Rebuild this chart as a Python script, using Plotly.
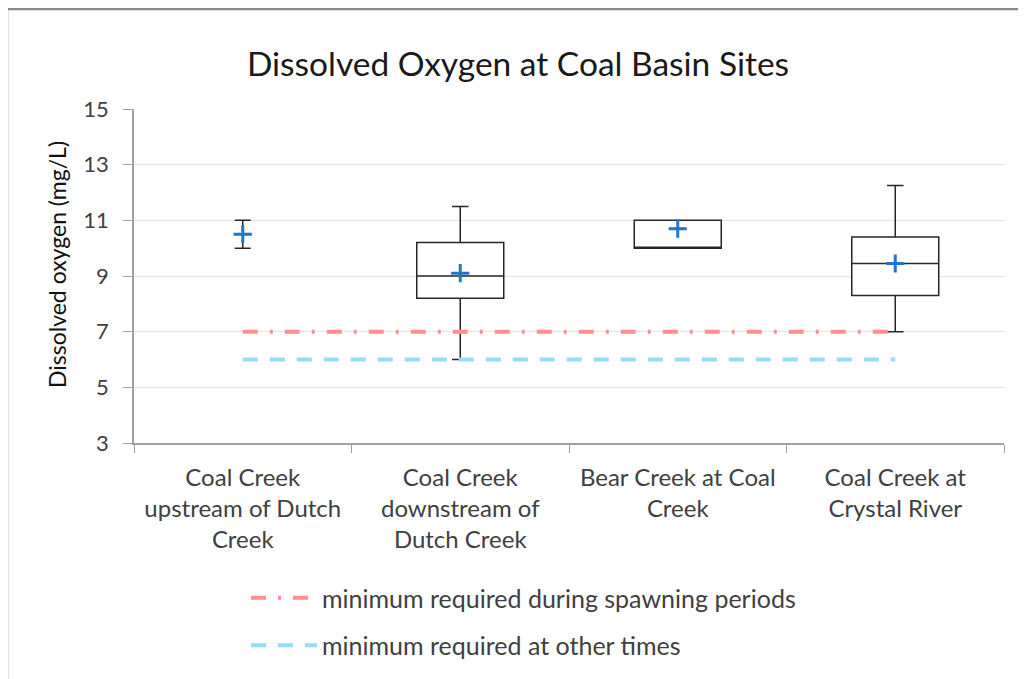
import plotly.graph_objects as go

categories = [
    "Coal Creek<br>upstream of Dutch<br>Creek",
    "Coal Creek<br>downstream of<br>Dutch Creek",
    "Bear Creek at Coal<br>Creek",
    "Coal Creek at<br>Crystal River",
]
# boxes (sites 2-4)
box_sites = [categories[1], categories[2], categories[3]]
box_q1 = [8.2, 10.0, 8.3]
box_median = [9.0, 10.0, 9.45]
box_q3 = [10.2, 11.0, 10.4]
box_low = [6.0, 10.0, 7.0]
box_high = [11.5, 11.0, 12.25]
# site 1: only range shown
site1_low = 10.0
site1_high = 11.0
means = [10.5, 9.1, 10.7, 9.45]

spawn_min = 7
other_min = 6
ref_names = ["minimum required during spawning periods", "minimum required at other times"]

FONT = "Lato"
TXT = "#404040"

fig = go.Figure()

fig.add_trace(go.Scatter(
    x=[categories[0], categories[-1]], y=[spawn_min, spawn_min], mode="lines",
    name=ref_names[0], legendgroup="a",
    line=dict(color="#FF8E8E", width=4, dash="15px,12px,3px,12px"),
))
fig.add_trace(go.Scatter(
    x=[categories[0], categories[-1]], y=[other_min, other_min], mode="lines",
    name=ref_names[1], legendgroup="b",
    line=dict(color="#95DCF6", width=4, dash="15px,12px"),
))

fig.add_trace(go.Box(
    x=box_sites, q1=box_q1, median=box_median, q3=box_q3,
    lowerfence=box_low, upperfence=box_high,
    width=0.4, whiskerwidth=0.19, fillcolor="white",
    line=dict(color="#262626", width=1.5), showlegend=False, hoverinfo="skip",
))

fig.add_trace(go.Scatter(
    x=[categories[0]], y=[(site1_low + site1_high) / 2], mode="markers",
    marker=dict(size=1, color="rgba(0,0,0,0)"),
    error_y=dict(type="data", symmetric=False,
                 array=[site1_high - (site1_low + site1_high) / 2],
                 arrayminus=[(site1_low + site1_high) / 2 - site1_low],
                 color="#262626", thickness=1.5, width=8),
    showlegend=False, hoverinfo="skip",
))

fig.add_trace(go.Scatter(
    x=categories, y=means, mode="markers",
    marker=dict(symbol="cross-thin", size=13, line=dict(width=3, color="#2176C7")),
    showlegend=False,
))

# chart frame (left and top edges)
fx = (7 - 134) / 870
fy = 1 + (109 - 9) / 334
fig.add_shape(type="line", xref="paper", yref="paper", x0=fx, x1=fx, y0=-1, y1=fy,
              line=dict(color="#898989", width=2.5))
fig.add_shape(type="line", xref="paper", yref="paper", x0=fx, x1=1.2, y0=fy, y1=fy,
              line=dict(color="#898989", width=2.5))

fig.add_annotation(text="Dissolved oxygen (mg/L)", xref="paper", yref="paper",
                   x=(57 - 134) / 870, y=(443 - 265) / 334, textangle=-90,
                   showarrow=False, xanchor="center", yanchor="middle",
                   font=dict(family=FONT, size=23, color="#111111"))

fig.update_layout(
    width=1018, height=671,
    margin=dict(l=126, r=22, t=101, b=236),
    paper_bgcolor="white", plot_bgcolor="white",
    font=dict(family=FONT, color=TXT, size=22),
    title=dict(text="Dissolved Oxygen at Coal Basin Sites", x=(518 - 8) / 1018, xanchor="center",
               y=1 - 56 / 671, yanchor="middle",
               font=dict(family=FONT, size=33.5, color="#1a1a1a")),
    xaxis=dict(type="category", categoryorder="array", categoryarray=categories,
               range=[-0.5, len(categories) - 0.5], autorange=False,
               showline=True, linecolor="#A0A0A0", linewidth=1.5,
               ticks="outside", tickson="boundaries", ticklen=8, tickcolor="#A0A0A0",
               showgrid=False, tickfont=dict(size=24, color=TXT), ticklabelstandoff=12,
               automargin=False),
    yaxis=dict(range=[3, 15], autorange=False, dtick=2, tick0=3, showline=True,
               linecolor="#A0A0A0", linewidth=1.5,
               ticks="outside", ticklen=9, tickcolor="#A0A0A0",
               gridcolor="#E4E4E4", gridwidth=1, zeroline=False,
               tickfont=dict(size=22, color=TXT), ticklabelstandoff=10, automargin=False),
    legend=dict(x=(246 - 134) / 870, xanchor="left", yref="container", y=1 - 567 / 671,
                yanchor="top", orientation="v", traceorder="grouped", tracegroupgap=12,
                font=dict(size=25, color=TXT), itemwidth=66, bgcolor="rgba(0,0,0,0)"),
)

fig.write_html("out.html")
